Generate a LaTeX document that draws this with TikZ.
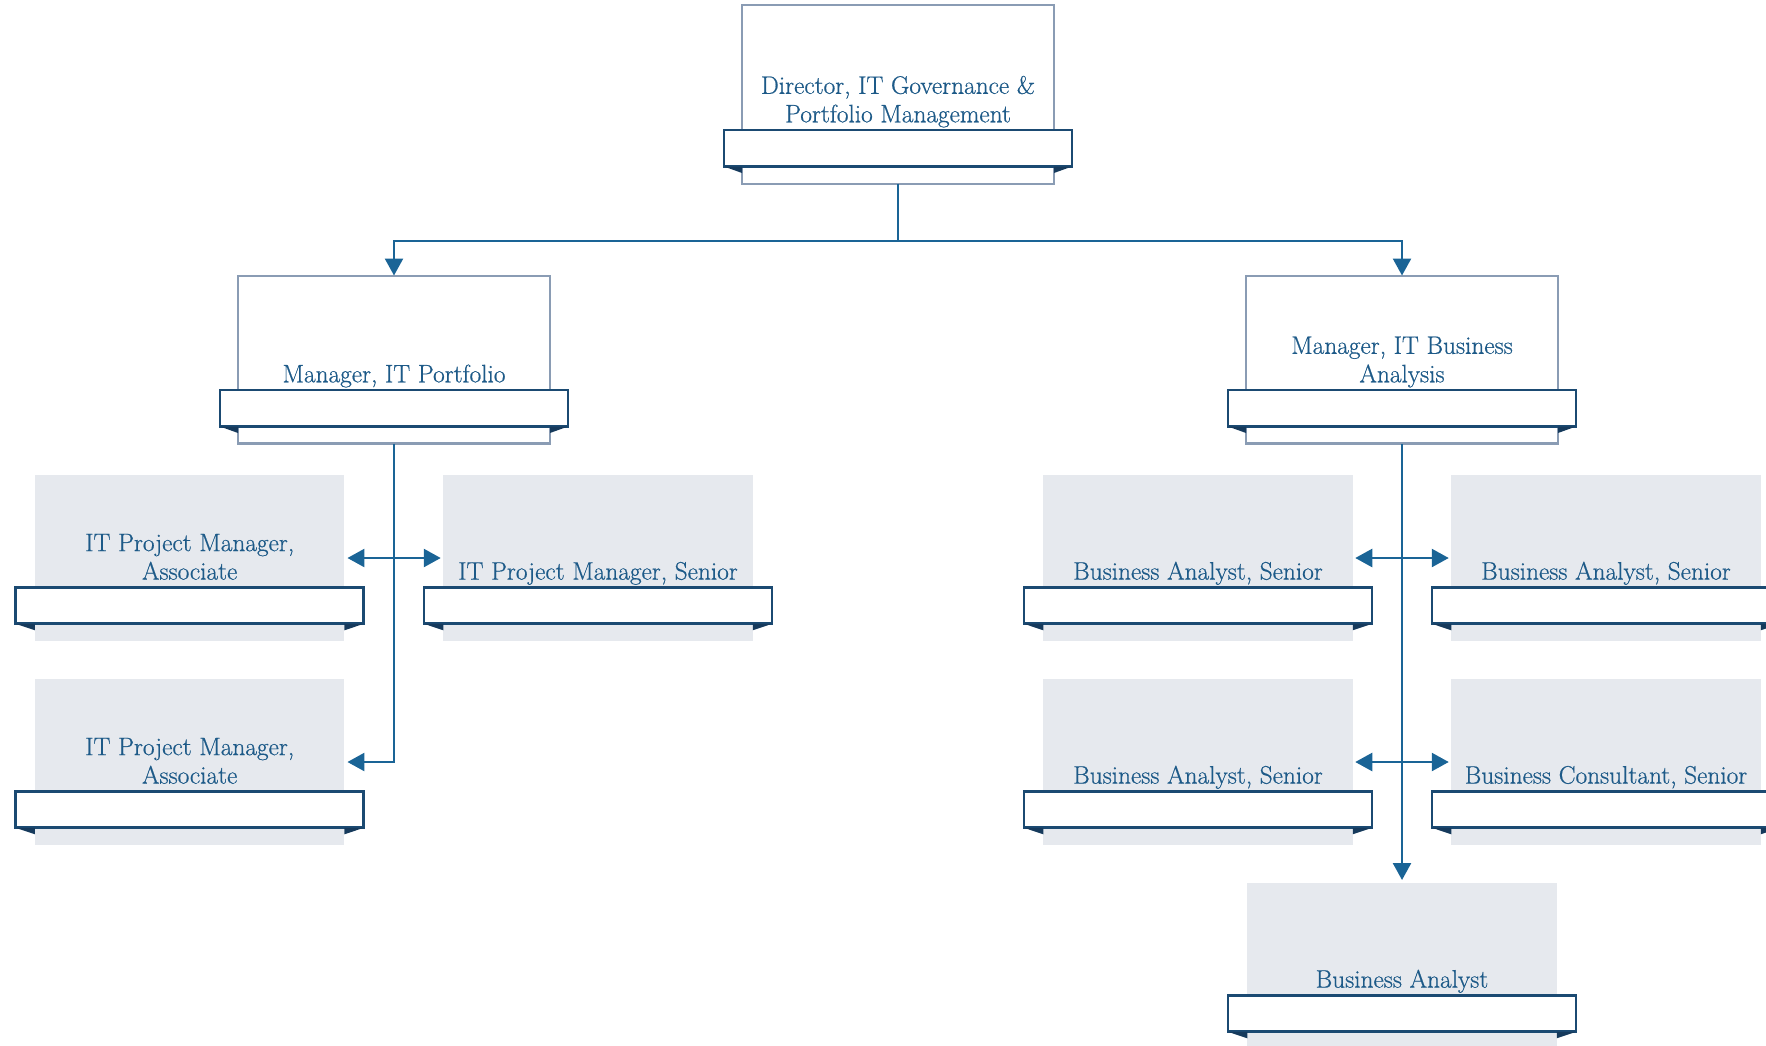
\documentclass[tikz,border=0pt]{standalone}
\usepackage{fontspec}
\newfontfamily\rolefont{Latin Modern Roman}[FakeBold=0.6]
\usetikzlibrary{arrows.meta,calc}

\definecolor{txtblue}{HTML}{1D5A88}
\definecolor{linkblue}{HTML}{1A6496}
\definecolor{mgrframe}{HTML}{8A9CB4}
\definecolor{ribbonline}{HTML}{1B4A72}
\definecolor{foldfill}{HTML}{163A5C}
\definecolor{cardfill}{HTML}{E6E9EE}

\tikzset{
  mgrbox/.style={draw=mgrframe, line width=2.4pt, fill=white, minimum width=312pt, inner sep=0pt, outer sep=0pt},
  cardbox/.style={fill=cardfill, minimum width=309.5pt, inner sep=0pt, outer sep=0pt},
  ribbonbox/.style={draw=ribbonline, line width=2.8pt, fill=white, minimum width=348pt, minimum height=36.5pt, inner sep=0pt, outer sep=0pt},
  lbl/.style={text=txtblue, align=center, inner sep=0pt, text depth=0pt, font=\rolefont\fontsize{25.3}{28.5}\selectfont},
  conn/.style={draw=linkblue, line width=2.5pt},
  tip/.tip={Triangle[length=17pt,width=18pt]}
}

% #1 name, #2 centre x, #3 top y, #4 box height, #5 ribbon offset from top, #6 box style, #7 title
\newcommand\rolecard[7]{%
  \node[#6, minimum height=#4, anchor=north] (#1) at (#2,#3) {};
  \node[ribbonbox, anchor=north] (#1-rb) at ($(#1.north)+(0,#5)$) {};
  \fill[foldfill] (#1-rb.south west) -- ($(#1-rb.south west -| #1.west)+(0,6.5)$) -- (#1-rb.south west -| #1.west) -- cycle;
  \fill[foldfill] (#1-rb.south east) -- ($(#1-rb.south east -| #1.east)+(0,6.5)$) -- (#1-rb.south east -| #1.east) -- cycle;
  \node[lbl, anchor=south] (#1-t) at ($(#1-rb.north)+(0,-7.5)$) {#7};
}

\begin{document}
\begin{tikzpicture}[x=1pt, y=-1pt]
\useasboundingbox (0,0) rectangle (1766,1045);
\clip (0,0) rectangle (1766,1045);

% director and managers
\rolecard{dir}{898}{5}{179}{125}{mgrbox}{Director, IT Governance \&\\Portfolio Management}
\rolecard{mgrL}{394}{276}{167.5}{114}{mgrbox}{Manager, IT Portfolio}
\rolecard{mgrR}{1402}{276}{167.5}{114}{mgrbox}{Manager, IT Business\\Analysis}

% portfolio team
\rolecard{pmA}{189.7}{475}{166}{112.3}{cardbox}{IT Project Manager,\\Associate}
\rolecard{pmS}{598}{475}{166}{112.3}{cardbox}{IT Project Manager, Senior}
\rolecard{pmB}{189.7}{679}{166}{112.3}{cardbox}{IT Project Manager,\\Associate}

% business analysis team
\rolecard{baA}{1198}{475}{166}{112.3}{cardbox}{Business Analyst, Senior}
\rolecard{baB}{1606}{475}{166}{112.3}{cardbox}{Business Analyst, Senior}
\rolecard{baC}{1198}{679}{166}{112.3}{cardbox}{Business Analyst, Senior}
\rolecard{bcS}{1606}{679}{166}{112.3}{cardbox}{Business Consultant, Senior}
\rolecard{baD}{1402}{883}{166}{112.3}{cardbox}{Business Analyst}

% reporting lines
\draw[conn, -tip, shorten >=0.5pt] (dir.south) -- ++(0,57) -| (mgrL.north);
\draw[conn, -tip, shorten >=0.5pt] (dir.south) -- ++(0,57) -| (mgrR.north);

\draw[conn, -tip, shorten >=3pt] (mgrL.south) |- (pmB.east);
\draw[conn, tip-tip, shorten <=3pt, shorten >=2.5pt] (pmA.east) -- (pmS.west);

\draw[conn, -tip, shorten >=3pt] (mgrR.south) -- (baD.north);
\draw[conn, tip-tip, shorten <=2.5pt, shorten >=2.5pt] (baA.east) -- (baB.west);
\draw[conn, tip-tip, shorten <=2.5pt, shorten >=2.5pt] (baC.east) -- (bcS.west);
\end{tikzpicture}
\end{document}
